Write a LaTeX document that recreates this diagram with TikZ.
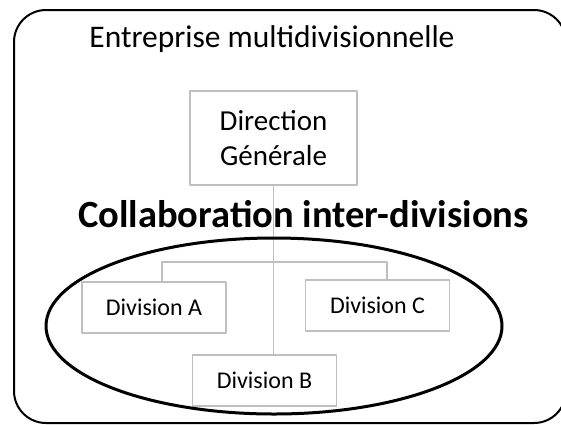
\documentclass[tikz,border=0pt]{standalone}
\usepackage{fontspec}
\setmainfont{Carlito}
\usetikzlibrary{positioning}
\begin{document}
\begin{tikzpicture}[x=1pt, y=-1pt, line join=round, line cap=round,
  boite/.style={draw=black!25, line width=1.8pt, fill=white, minimum width=144pt, minimum height=51pt, inner sep=0pt, font=\fontsize{24}{29}\selectfont},
  trait/.style={draw=black!25, line width=1.3pt}]
\useasboundingbox (0,0) rectangle (561,424);
\clip (0,0) rectangle (561,424);
%cadre
\draw[line width=2pt, rounded corners=32pt] (14,10) rectangle (566,423);
\node[anchor=base] (titre) at (272,47) {\fontsize{31.5}{37}\selectfont Entreprise multidivisionnelle};
%organigramme
\node[boite, minimum width=167pt, minimum height=94pt, align=center, font=\fontsize{29}{35}\selectfont] (dg) at (273.5,138) {Direction\\Générale};
\node[boite] (divA) at (154,307.5) {Division A};
\node[boite] (divC) at (377.5,305.5) {Division C};
\node[boite] (divB) at (264.5,380.5) {Division B};
\coordinate (barre) at (273,262);
\draw[trait] (dg.south) -- (dg.south |- divB.north);
\draw[trait] (divA.north -| 162,0) |- (barre) -| (divC.north -| 387,0);
\draw[line width=3pt] (274,326) ellipse [x radius=228pt, y radius=88pt];
\node[anchor=base, font=\bfseries\fontsize{38.5}{46}\selectfont] (collab) at (303.5,227) {Collaboration inter-divisions};
\end{tikzpicture}
\end{document}
